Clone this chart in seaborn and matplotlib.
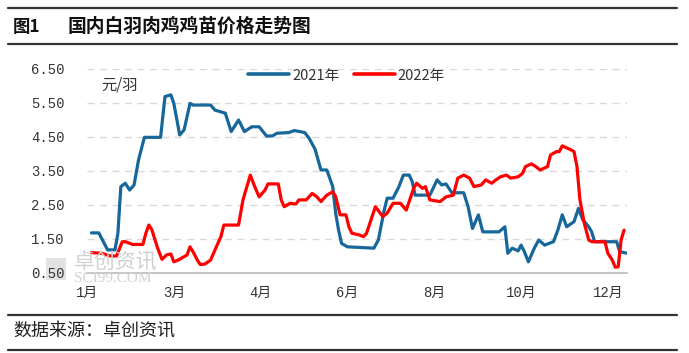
import matplotlib
matplotlib.use("Agg")
import matplotlib.pyplot as plt
import pandas as pd
import seaborn as sns
from matplotlib.lines import Line2D
from matplotlib.patches import Rectangle

# --- Data; x = day index within the year
day_2021 = [0, 5, 11, 16, 18, 20, 23, 26, 29, 32, 36, 47, 50, 54, 56, 60, 63, 67,
            69, 81, 84, 88, 91, 95, 100, 104, 109, 114, 119, 123, 126, 134, 138,
            145, 148, 152, 156, 160, 164, 166, 168, 170, 174, 192, 195, 199, 201,
            205, 209, 212, 216, 218, 220, 230, 235, 238, 241, 245, 253, 256, 259,
            263, 266, 277, 281, 283, 286, 290, 292, 294, 297, 301, 304, 308, 314,
            317, 320, 323, 328, 331, 334, 338, 340, 342, 357, 359, 364]
price_2021 = [1.68, 1.68, 1.18, 1.18, 1.67, 3.04, 3.14, 2.94, 3.09, 3.82, 4.49,
              4.49, 5.69, 5.74, 5.49, 4.56, 4.71, 5.49, 5.44, 5.44, 5.29, 5.24,
              5.20, 4.66, 5.00, 4.66, 4.80, 4.80, 4.53, 4.53, 4.61, 4.63, 4.69,
              4.63, 4.46, 4.14, 3.53, 3.53, 3.04, 2.26, 1.76, 1.37, 1.27, 1.23,
              1.47, 2.35, 2.70, 2.70, 3.04, 3.38, 3.38, 3.19, 2.79, 2.79, 3.24,
              3.09, 3.12, 2.86, 2.86, 2.45, 1.81, 2.21, 1.71, 1.71, 1.86, 1.08,
              1.23, 1.15, 1.32, 1.15, 0.83, 1.23, 1.47, 1.32, 1.42, 1.76, 2.21,
              1.86, 2.01, 2.40, 2.06, 1.86, 1.71, 1.42, 1.42, 1.13, 1.08]

day_2022 = [0, 7, 13, 17, 21, 23, 28, 35, 37, 39, 41, 45, 48, 51, 54, 56, 59, 63,
            65, 67, 69, 72, 74, 77, 81, 84, 88, 90, 100, 103, 108, 111, 114, 118,
            120, 127, 129, 131, 135, 139, 141, 146, 150, 153, 156, 160, 164, 166,
            169, 173, 175, 177, 182, 185, 187, 190, 193, 198, 201, 205, 210, 214,
            219, 221, 225, 227, 230, 237, 241, 246, 249, 253, 257, 260, 265, 268,
            272, 275, 278, 282, 285, 290, 293, 295, 299, 302, 305, 310, 312, 316,
            318, 320, 322, 326, 328, 330, 332, 335, 338, 340, 349, 351, 354, 356,
            358, 360, 362]
price_2022 = [1.10, 1.08, 1.00, 1.00, 1.42, 1.42, 1.34, 1.34, 1.67, 1.91, 1.78,
              1.23, 0.90, 1.03, 1.06, 0.83, 0.88, 0.98, 1.03, 1.27, 1.13, 0.88,
              0.75, 0.76, 0.88, 1.18, 1.57, 1.91, 1.91, 2.65, 3.38, 3.04, 2.74,
              2.94, 3.12, 3.12, 2.65, 2.45, 2.55, 2.53, 2.65, 2.65, 2.84, 2.75,
              2.60, 2.79, 2.89, 2.75, 2.21, 2.21, 1.86, 1.67, 1.62, 1.57, 1.67,
              2.06, 2.45, 2.16, 2.26, 2.55, 2.55, 2.35, 2.99, 3.14, 2.99, 3.04,
              2.65, 2.60, 2.74, 2.79, 3.29, 3.38, 3.29, 3.04, 3.09, 3.24, 3.14,
              3.24, 3.33, 3.38, 3.29, 3.33, 3.43, 3.63, 3.71, 3.63, 3.53, 3.63,
              3.97, 4.07, 4.07, 4.24, 4.20, 4.12, 4.07, 3.63, 2.65, 1.96, 1.47,
              1.42, 1.42, 1.08, 0.88, 0.67, 0.68, 1.47, 1.76]

series_names = ["2021年", "2022年"]
series_colors = ["#17679A", "#FF0000"]
month_ticks = [-3, 56, 115, 174, 233, 292, 351]
month_labels = ["1月", "3月", "4月", "6月", "8月", "10月", "12月"]
y_ticks = [0.5, 1.5, 2.5, 3.5, 4.5, 5.5, 6.5]

df = pd.concat([
    pd.DataFrame({"day": day_2021, "price": price_2021, "year": series_names[0]}),
    pd.DataFrame({"day": day_2022, "price": price_2022, "year": series_names[1]}),
])

# --- Style
sns.set_style("white")
cjk = ["Noto Sans CJK SC", "DejaVu Sans"]
mono = ["Liberation Mono", "Noto Sans CJK SC"]
plt.rcParams["font.family"] = cjk

fig = plt.figure(figsize=(6.89, 3.53), dpi=100)

# Watermark logo block (drawn underneath everything else)
fig.add_artist(Rectangle((46 / 689, 1 - 280 / 353), 20 / 689, 22 / 353,
                         transform=fig.transFigure, color="#E2E2E2", lw=0,
                         zorder=-1))

ax = fig.add_axes([87 / 689, 1 - 273 / 353, 540 / 689, 204 / 353])
ax.patch.set_alpha(0)

palette = dict(zip(series_names, series_colors))
sns.lineplot(data=df, x="day", y="price", hue="year", palette=palette,
             estimator=None, sort=False, linewidth=2.3, ax=ax, legend=False,
             solid_joinstyle="round", solid_capstyle="round")

ax.set_xlim(0, 364)
ax.set_ylim(0.5, 6.5)
ax.set_yticks(y_ticks)
ax.set_yticklabels([f"{v:.2f}" for v in y_ticks], family=mono, fontsize=10,
                   color="#333333")
ax.set_xticks(month_ticks)
ax.set_xticklabels(month_labels, family=mono, fontsize=10, color="#333333")
ax.tick_params(axis="y", length=0, pad=16)
ax.tick_params(axis="x", length=0, pad=9)
ax.set_xlabel("")
ax.set_ylabel("")

for v in y_ticks[1:]:
    ax.axhline(v, color="#D9D9D9", lw=1, ls=(0, (5, 4)), zorder=0)
for s in ["top", "right", "left"]:
    ax.spines[s].set_visible(False)
ax.spines["bottom"].set_color("#BFBFBF")
ax.spines["bottom"].set_linewidth(1.3)

ax.text(101 / 689, 1 - 85 / 353, "元/羽", transform=fig.transFigure,
        fontsize=11, color="#333333", va="center", ha="left")

# Legend
handles = [Line2D([], [], color=c, lw=2.6) for c in series_colors]
fig.legend(handles, series_names, loc="center", bbox_to_anchor=(0.503, 0.786),
           ncol=2, frameon=False, fontsize=10.5, handlelength=2.8,
           handletextpad=0.2, columnspacing=1.0, labelcolor="#333333")

# Watermark text
fig.text(74 / 689, 1 - 263 / 353, "卓创资讯", fontsize=15, color="#D0D0D0",
         va="center", ha="left")
fig.text(74 / 689, 1 - 279 / 353, "SCI99.COM", fontsize=11, color="#D0D0D0",
         family=["Liberation Serif"], va="center", ha="left")

# Title block and source
for yy in [7.5, 43.5, 315, 350]:
    fig.add_artist(Line2D([8 / 689, 677 / 689], [1 - yy / 353, 1 - yy / 353],
                          color="#333333", lw=1.6, transform=fig.transFigure))
fig.text(13 / 689, 1 - 26.5 / 353, "图1", fontsize=12.5, fontweight="bold",
         va="center", ha="left", color="#111111")
fig.text(68 / 689, 1 - 26.5 / 353, "国内白羽肉鸡鸡苗价格走势图", fontsize=13.5,
         fontweight="bold", va="center", ha="left", color="#111111")
fig.text(13 / 689, 1 - 332 / 353, "数据来源：卓创资讯", fontsize=13,
         va="center", ha="left", color="#222222")

fig.savefig("out.png", dpi=100)
